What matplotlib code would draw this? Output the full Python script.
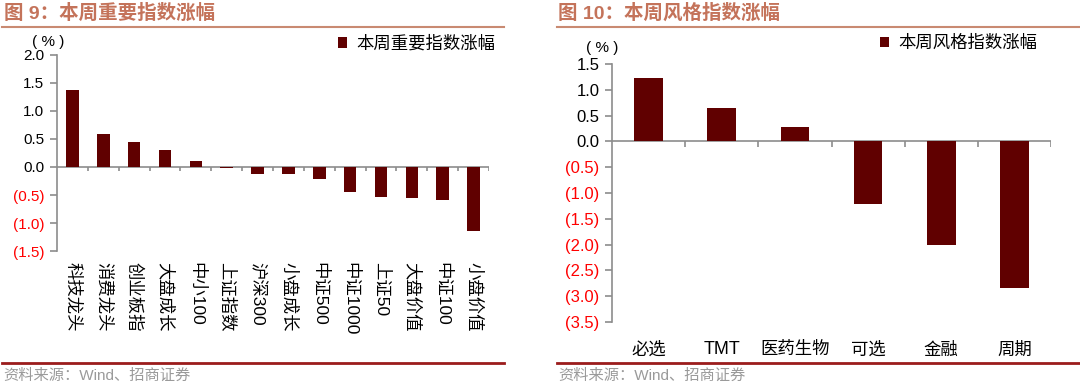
import numpy as np
import matplotlib
matplotlib.use('Agg')
import matplotlib.pyplot as plt
from matplotlib.lines import Line2D

plt.rcParams['font.family'] = ['Liberation Sans', 'Noto Sans CJK SC', 'DejaVu Sans']
plt.rcParams['axes.unicode_minus'] = False

# data
idx_names = ['科技龙头', '消费龙头', '创业板指', '大盘成长', '中小100', '上证指数', '沪深300',
             '小盘成长', '中证500', '中证1000', '上证50', '大盘价值', '中证100', '小盘价值']
idx_chg = [1.37, 0.59, 0.45, 0.31, 0.10, -0.01, -0.13, -0.13, -0.21, -0.45, -0.53, -0.55, -0.59, -1.15]

style_names = ['必选', 'TMT', '医药生物', '可选', '金融', '周期']
style_chg = [1.22, 0.65, 0.27, -1.22, -2.01, -2.84]

left_ticks = [2.0, 1.5, 1.0, 0.5, 0.0, -0.5, -1.0, -1.5]
right_ticks = [1.5, 1.0, 0.5, 0.0, -0.5, -1.0, -1.5, -2.0, -2.5, -3.0, -3.5]

bar_c = '#600000'
grey = '#8c8c8c'
title_c = '#c4735a'

W, H = 1080, 389
fig = plt.figure(figsize=(W / 100, H / 100), dpi=100)


def fx(px):
    return px / W


def fy(px):
    return 1 - px / H


def fmt(v):
    return f'({abs(v):.1f})' if v < 0 else f'{v:.1f}'


def panel(rect, names, vals, ticks, width, fs_y, fs_x, rot, legend_txt, leg_xy, pct_xy):
    ax = fig.add_axes(rect)
    n = len(names)
    x = np.arange(n)
    bars = ax.bar(x, vals, width=width, color=bar_c, zorder=3)
    ax.set_xlim(-0.5, n - 0.5)
    ax.set_ylim(min(ticks), max(ticks))
    for s in ['top', 'right', 'bottom']:
        ax.spines[s].set_visible(False)
    ax.spines['left'].set_color(grey)
    ax.spines['left'].set_linewidth(1.2)
    ax.axhline(0, color=grey, lw=1.2, zorder=2)
    # boundary tick marks on zero line
    ax.vlines(x + 0.5, 0, -(max(ticks) - min(ticks)) * 0.022, color=grey, lw=1.2, zorder=2)
    ax.set_yticks(ticks)
    ax.set_yticklabels([fmt(t) for t in ticks], fontsize=fs_y)
    for lab, t in zip(ax.get_yticklabels(), ticks):
        lab.set_color('red' if t < 0 else 'black')
    ax.tick_params(axis='y', direction='out', length=5, color=grey, width=1.2, pad=4)
    ax.set_xticks(x)
    if rot:
        ax.set_xticklabels(names, rotation=270, fontsize=fs_x, va='top', ha='center')
        ax.tick_params(axis='x', length=0, pad=8)
    else:
        ax.set_xticklabels(names, fontsize=fs_x)
        ax.tick_params(axis='x', length=0, pad=14)
    ax.legend([bars], [legend_txt], loc='upper right', frameon=False,
              bbox_to_anchor=leg_xy, bbox_transform=fig.transFigure,
              handlelength=0.55, handleheight=0.55, handletextpad=0.5,
              borderaxespad=0, borderpad=0, fontsize=12.5)
    fig.text(pct_xy[0], pct_xy[1], '( % )', fontsize=11, ha='left', va='center')
    return ax


panel([fx(57), fy(251), fx(432), fy(55) - fy(251)], idx_names, idx_chg, left_ticks,
      0.41, 11, 12.5, True, '本周重要指数涨幅', (fx(495), fy(35)), (fx(32), fy(42)))
ax2 = panel([fx(612), fy(322), fx(439), fy(64) - fy(322)], style_names, style_chg, right_ticks,
            0.39, 12, 12.5, False, '本周风格指数涨幅', (fx(1037), fy(35)), (fx(586), fy(48)))
for lab in ax2.get_xticklabels():
    if lab.get_text() == 'TMT':
        lab.set_fontsize(13)

# headers, rules and sources
fig.text(fx(4), fy(13), '图 9：本周重要指数涨幅', fontsize=14, fontweight='bold',
         color=title_c, va='center', ha='left')
fig.text(fx(558), fy(13), '图 10：本周风格指数涨幅', fontsize=14, fontweight='bold',
         color=title_c, va='center', ha='left')
for x0, x1 in [(2, 504), (557, 1080)]:
    fig.add_artist(Line2D([fx(x0), fx(x1)], [fy(26.5), fy(26.5)], color='#c98a72', lw=1.5))
    fig.add_artist(Line2D([fx(x0), fx(x1)], [fy(362.5), fy(362.5)], color='#9b1c1c', lw=2))
fig.text(fx(3), fy(376), '资料来源：Wind、招商证券', fontsize=11, color='#9a9a9a', va='center')
fig.text(fx(558), fy(376), '资料来源：Wind、招商证券', fontsize=11, color='#9a9a9a', va='center')

fig.savefig('out.png', dpi=100)
